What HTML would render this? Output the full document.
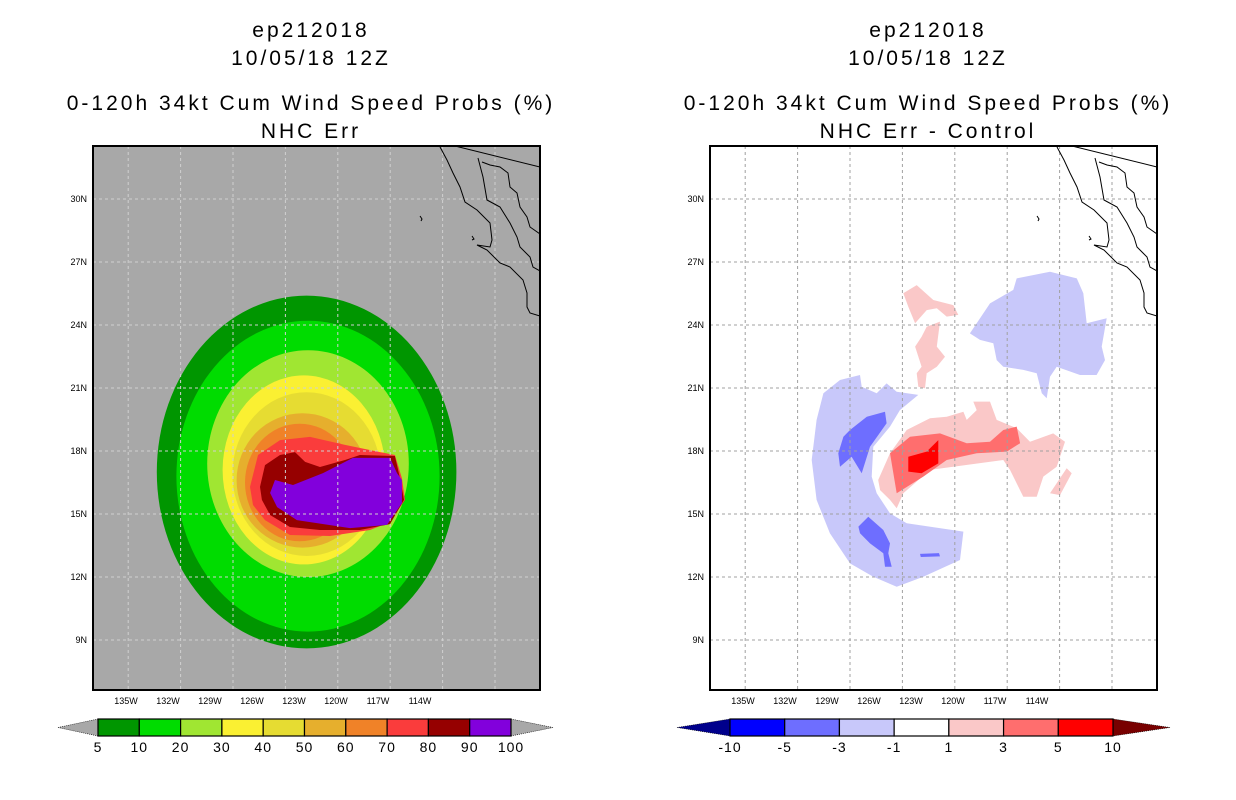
<!DOCTYPE html>
<html><head><meta charset="utf-8"><style>
html,body{margin:0;padding:0;background:#fff;}
svg{display:block;font-family:"Liberation Sans",sans-serif;}
</style></head><body>
<svg id="chart" width="1236" height="800" viewBox="0 0 1236 800">
<g id="titles" font-size="21" text-anchor="middle" fill="#000" letter-spacing="3">
<text x="311" y="37">ep212018</text>
<text x="311" y="65">10/05/18 12Z</text>
<text x="311" y="110">0-120h 34kt Cum Wind Speed Probs (%)</text>
<text x="311" y="138">NHC Err</text>
<text x="928" y="37">ep212018</text>
<text x="928" y="65">10/05/18 12Z</text>
<text x="928" y="110">0-120h 34kt Cum Wind Speed Probs (%)</text>
<text x="928" y="138">NHC Err - Control</text>
</g>
</svg>
<script>
const lonTicks=[-135,-132,-129,-126,-123,-120,-117,-114];
const lonTickLabels=["135W","132W","129W","126W","123W","120W","117W","114W"];
const latTicks=[30,27,24,21,18,15,12,9];
const latTickLabels=["30N","27N","24N","21N","18N","15N","12N","9N"];
const probLevels=["5","10","20","30","40","50","60","70","80","90","100"];
const probColors=["#009600","#00dc00","#a0e632","#faf032","#e6dc32","#e6af2d","#f08228","#fa3c3c","#960000","#8200dc"];
const diffLevels=["-10","-5","-3","-1","1","3","5","10"];
const diffColors=["#00008c","#0000ff","#6e6eff","#c8c8fa","#ffffff","#fac8c8","#ff6e6e","#ff0000","#780000"];
const ringLevels=[5,10,20,30,40,50,60];
const ringCenters=[[-122.1,17.0],[-122.0,16.8],[-122.0,17.4],[-122.3,17.1],[-122.1,16.9],[-122.4,16.6],[-122.6,16.5]];
const ringRadii=[[10.7,8.4],[9.4,7.4],[7.2,5.4],[5.8,4.5],[5.3,3.9],[4.7,3.2],[3.9,2.8]];
const core70=[[-126.14,16.29],[-125.57,17.81],[-124.0,18.52],[-121.86,18.67],[-119.36,18.29],[-116.86,17.95],[-115.79,17.81],[-115.29,16.71],[-115.07,15.67],[-116.14,14.62],[-117.57,14.24],[-120.43,13.95],[-123.29,14.0],[-125.07,14.71],[-125.93,15.43]];
const core80=[[-125.43,16.29],[-125.07,17.33],[-124.0,17.81],[-122.93,17.95],[-122.21,17.48],[-121.14,17.24],[-119.36,17.57],[-118.29,17.81],[-115.79,17.76],[-115.43,16.71],[-115.14,15.67],[-116.14,14.52],[-118.29,14.24],[-121.14,14.24],[-123.29,14.38],[-124.71,14.95],[-125.29,15.67]];
const core90=[[-124.36,16.62],[-123.07,16.38],[-120.93,16.95],[-118.79,17.67],[-116.14,17.67],[-115.64,16.95],[-115.29,16.62],[-115.29,15.52],[-116.36,14.48],[-119.0,14.33],[-122.79,14.71],[-124.21,15.33],[-124.71,16.0]];
const negC=[[-128.07,21.38],[-126.64,21.62],[-126.52,21.06],[-125.45,20.75],[-124.74,21.22],[-124.02,20.82],[-122.48,20.67],[-123.79,19.95],[-124.5,19.16],[-125.69,18.2],[-125.81,16.78],[-125.45,15.99],[-124.5,15.03],[-123.31,14.56],[-119.26,14.16],[-119.5,12.81],[-122.12,12.01],[-124.02,11.54],[-125.69,12.01],[-127.36,12.65],[-128.79,14.08],[-129.74,15.67],[-130.09,17.57],[-129.74,19.48],[-129.26,20.75]];
const negNE=[[-118.79,23.6],[-117.36,25.03],[-115.69,25.67],[-115.45,26.22],[-113.07,26.54],[-111.16,26.22],[-110.69,25.51],[-110.45,24.08],[-109.02,24.32],[-109.38,22.97],[-109.14,22.33],[-109.74,21.62],[-110.93,21.62],[-112.59,22.01],[-113.07,21.54],[-113.31,20.51],[-113.66,20.75],[-114.02,21.7],[-114.98,21.86],[-116.41,22.01],[-116.88,22.33],[-117.12,23.13],[-118.07,23.29]];
const neg5a=[[-127.36,19.0],[-126.16,19.63],[-124.86,19.87],[-124.74,19.32],[-125.93,18.2],[-126.52,16.94],[-127.24,17.73],[-128.07,17.25],[-128.19,17.89],[-127.83,18.68]];
const neg5b=[[-126.76,14.4],[-126.05,14.87],[-124.98,14.24],[-124.5,13.6],[-124.62,13.13],[-124.38,12.49],[-124.86,12.49],[-124.98,13.13],[-125.93,13.6],[-126.64,14.08]];
const neg5c=[[-122.36,13.1],[-121.0,13.14],[-120.93,12.98],[-122.3,12.95]];
const pos1a=[[-123.55,25.51],[-122.59,25.9],[-121.41,25.19],[-119.98,24.95],[-119.62,24.48],[-120.45,24.4],[-121.16,24.8],[-121.88,24.71],[-122.71,24.08],[-123.19,24.87]];
const pos1b=[[-121.88,23.92],[-120.93,24.16],[-121.16,22.97],[-120.57,22.49],[-121.16,22.01],[-121.88,21.7],[-122.0,20.99],[-122.48,21.06],[-122.59,21.7],[-122.24,22.01],[-122.71,22.97],[-122.24,23.44]];
const pos1c=[[-125.34,16.62],[-124.5,17.89],[-123.31,19.0],[-121.64,19.56],[-120.45,19.63],[-119.26,19.87],[-119.02,19.48],[-118.31,19.95],[-118.55,20.35],[-117.36,20.35],[-116.88,19.48],[-115.45,19.08],[-114.5,18.44],[-112.84,18.84],[-112.0,18.44],[-112.59,17.25],[-113.55,16.78],[-114.02,15.82],[-114.98,15.82],[-115.93,17.1],[-116.41,17.57],[-121.64,17.1],[-123.55,15.99],[-124.02,15.27],[-124.5,15.67],[-125.21,16.14]];
const pos1d=[[-113.07,15.99],[-111.88,17.18],[-111.52,16.94],[-112.36,15.9]];
const pos3=[[-124.5,17.89],[-123.07,18.68],[-120.93,18.84],[-119.02,18.37],[-117.36,18.44],[-116.41,19.0],[-115.45,19.16],[-115.21,18.37],[-116.16,17.97],[-118.31,17.89],[-120.45,17.57],[-122.12,16.78],[-124.02,15.99]];
const pos5=[[-123.19,17.73],[-121.88,17.97],[-121.05,18.52],[-121.05,17.41],[-122.24,16.94],[-123.19,17.02]];

const NS="http://www.w3.org/2000/svg";
const svg=document.getElementById('chart');
function mk(tag,attrs,parent){const e=document.createElementNS(NS,tag);for(const k in attrs)e.setAttribute(k,attrs[k]);(parent||svg).appendChild(e);return e;}
const BOX_TOP=146,BOX_BOT=690,BOX_W=447;
function makeAxes(x0){
  return {X:lon=>x0+(lon+135)*14,Y:lat=>199+(30-lat)*21};
}
function poly(pts,ax,color,parent,name){
  const p=mk('polygon',{points:pts.map(q=>ax.X(q[0]).toFixed(1)+','+ax.Y(q[1]).toFixed(1)).join(' '),fill:color},parent);
  
  
}
function panel(bx,x0,bg,gridColor,id){
  const ax=makeAxes(x0);
  const g=mk('g',{});
  
  
  const cid='clip-'+id;
  const cp=mk('clipPath',{id:cid},g);mk('rect',{x:bx,y:BOX_TOP,width:BOX_W,height:BOX_BOT-BOX_TOP},cp);
  const r=mk('rect',{x:bx,y:BOX_TOP,width:BOX_W,height:BOX_BOT-BOX_TOP,fill:bg},g);
  
  
  const inner=mk('g',{'clip-path':'url(#'+cid+')'},g);
  return {ax,g,inner};
}
function grid(P,bx,gridColor,id){
  const gg=mk('g',{stroke:gridColor,'stroke-width':1,'stroke-dasharray':'3,3'},P.inner);
  
  
  for(let k=0;k<8;k++){const x=bx+35.2+52.4*k;mk('line',{x1:x,x2:x,y1:BOX_TOP,y2:BOX_BOT},gg);}
  latTicks.forEach(l=>{const y=P.ax.Y(l);mk('line',{x1:bx,x2:bx+BOX_W,y1:y,y2:y},gg);});
}
function coast(dx,parent,id){
  const lines=[
   "M440,147 L447,160 L453,173 L460,187 L465,202 L477,210 L490,223 L492,240 L490,247 L477,245 L487,250 L500,263 L510,267 L523,280 L527,293 L527,307 L530,313 L540,316",
   "M478,158 L483,177 L487,200 L500,207 L510,223 L517,237 L520,247 L530,257 L533,267 L540,271",
   "M482,162 L490,165 L500,167 L508,173 L510,187 L517,193 L520,207 L527,217 L530,227 L540,234",
   "M455,146 L540,167","M420,216 l2,3 l-1,2","M472,236 l2,3 l-2,1"];
  const cg=mk('g',{fill:'none',stroke:'#000','stroke-width':1,transform:'translate('+dx+',0)'},parent);
  
  
  lines.forEach(d=>mk('path',{d},cg));
}
function axisLabels(P,bx,id){
  const g=mk('g',{'font-size':9,fill:'#000'});
  
  
  lonTicks.forEach((l,i)=>{const t=mk('text',{x:P.ax.X(l),y:704,'text-anchor':'middle'},g);t.textContent=lonTickLabels[i];
    
    });
  latTicks.forEach((l,i)=>{const t=mk('text',{x:bx-6,y:P.ax.Y(l)+3,'text-anchor':'end'},g);t.textContent=latTickLabels[i];
    
    });
  const b=mk('rect',{x:bx,y:BOX_TOP,width:BOX_W,height:BOX_BOT-BOX_TOP,fill:'none',stroke:'#000','stroke-width':2});
  
  
}
const L=panel(93,126,'#a8a8a8','#d0d0d0','left');
ringLevels.forEach((lv,i)=>{
  const e=mk('ellipse',{cx:L.ax.X(ringCenters[i][0]),cy:L.ax.Y(ringCenters[i][1]),rx:ringRadii[i][0]*14,ry:ringRadii[i][1]*21,fill:probColors[i]},L.inner);
  
  
});
poly(core70,L.ax,probColors[7],L.inner,'contour-70-percent');
poly(core80,L.ax,probColors[8],L.inner,'contour-80-percent');
poly(core90,L.ax,probColors[9],L.inner,'contour-90-percent');
grid(L,93,'#d0d0d0','left');
coast(0,L.inner,'left');
axisLabels(L,93,'left');
const R=panel(710,743,'#ffffff','#a0a0a0','right');
poly(negC,R.ax,diffColors[3],R.inner,'negative-diff-ring');
poly(negNE,R.ax,diffColors[3],R.inner,'negative-diff-northeast');
poly(neg5a,R.ax,diffColors[2],R.inner,'negative-diff-strong-a');
poly(neg5b,R.ax,diffColors[2],R.inner,'negative-diff-strong-b');
poly(neg5c,R.ax,diffColors[2],R.inner,'negative-diff-strong-c');
poly(pos1a,R.ax,diffColors[5],R.inner,'positive-diff-north');
poly(pos1b,R.ax,diffColors[5],R.inner,'positive-diff-strip');
poly(pos1c,R.ax,diffColors[5],R.inner,'positive-diff-core');
poly(pos1d,R.ax,diffColors[5],R.inner,'positive-diff-east');
poly(pos3,R.ax,diffColors[6],R.inner,'positive-diff-3');
poly(pos5,R.ax,diffColors[7],R.inner,'positive-diff-5');
grid(R,710,'#a0a0a0','right');
coast(617,R.inner,'right');
axisLabels(R,710,'right');
function colorbar(x0,x1,tipL,tipR,colors,labels,triColors,id){
  const g=mk('g',{});
  
  
  const n=colors.length,w=(x1-x0)/n,y0=719,y1=736,ym=727.5;
  const tl=mk('polygon',{points:`${tipL},${ym} ${x0},${y0} ${x0},${y1}`,fill:triColors[0],stroke:'#000','stroke-width':0.6,'stroke-dasharray':'1,1'},g);
  
  
  const tr=mk('polygon',{points:`${tipR},${ym} ${x1},${y0} ${x1},${y1}`,fill:triColors[1],stroke:'#000','stroke-width':0.6,'stroke-dasharray':'1,1'},g);
  
  
  colors.forEach((c,i)=>{const r=mk('rect',{x:x0+i*w,y:y0,width:w,height:y1-y0,fill:c,stroke:'#000','stroke-width':1.2},g);
    
    });
  labels.forEach((s,i)=>{const t=mk('text',{x:x0+i*w,y:752,'text-anchor':'middle','font-size':14,'letter-spacing':1},g);t.textContent=s;
    
    });
}
colorbar(98,511,58,553,probColors,probLevels,['#a8a8a8','#a8a8a8'],'left');
colorbar(730,1113,677,1170,diffColors.slice(1,8),diffLevels,[diffColors[0],diffColors[8]],'right');
</script>
</body></html>
